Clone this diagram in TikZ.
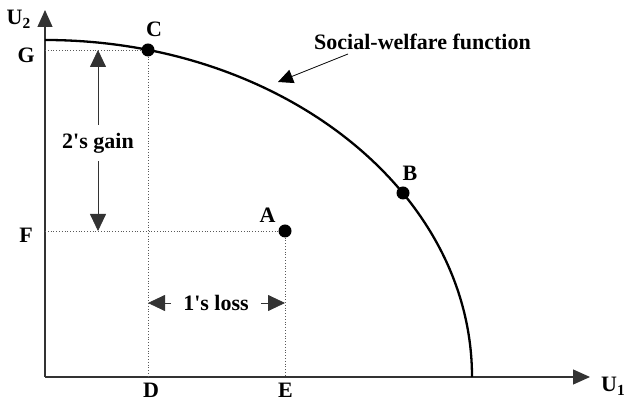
\documentclass[tikz,border=0pt]{standalone}
\usepackage{fontspec}
\setmainfont{Liberation Serif}
\usetikzlibrary{positioning, arrows.meta}

\begin{document}
\begin{tikzpicture}[
        x=1pt, y=1pt,
        lbl/.style={font=\bfseries\fontsize{22}{24}\selectfont, inner sep=0pt},
        axis/.style={-{Triangle[length=17pt,width=15pt]}, line width=1.2pt, draw=black!80},
        guide/.style={dotted, line width=0.8pt, draw=black!65},
        swf/.style={line width=2.3pt},
        dot/.style={circle, fill=black, inner sep=0pt, minimum size=13pt},
        dimarrow/.style={-{Triangle[length=17pt,width=16pt]}, line width=0.8pt, draw=black!80},
        ptr/.style={-{Triangle[length=15pt,width=14pt]}, line width=0.8pt}
      ]
        \useasboundingbox (-45,-26) rectangle (581,377);

        % axes
        \coordinate (O) at (0,0);
        \coordinate (ytip) at (0,367);
        \coordinate (xtip) at (545,0);
        \draw[axis] (O) -- (ytip);
        \draw[axis] (O) -- (xtip);
        \node[lbl, anchor=base east] (U2) at (-14,352) {U\textsubscript{2}};
        \node[lbl, anchor=base west] (U1) at (556,-15) {U\textsubscript{1}};

        % reference levels
        \coordinate (G) at (0,327);
        \coordinate (F) at (0,146);
        \coordinate (D) at (103,0);
        \coordinate (E) at (240,0);
        \node[lbl, anchor=base east] (Glbl) at (-10,314) {G};
        \node[lbl, anchor=base east] (Flbl) at (-12,134) {F};
        \node[lbl, anchor=base] (Dlbl) at (106,-21) {D};
        \node[lbl, anchor=base] (Elbl) at (240.5,-21) {E};

        % social-welfare curve
        \coordinate (swfstart) at (0,337);
        \draw[swf] (swfstart) arc[start angle=90, end angle=0, x radius=427, y radius=337];

        % points
        \node[dot] (C) at (103,327) {};
        \node[dot] (B) at (358,184) {};
        \node[dot] (A) at (240,146) {};
        \node[lbl, anchor=base] (Clbl) at (109,340) {C};
        \node[lbl, anchor=base] (Blbl) at (365,196) {B};
        \node[lbl, anchor=base] (Albl) at (222.5,154) {A};

        \draw[guide] (G) -- (C);
        \draw[guide] (C) -- (D);
        \draw[guide] (F) -- (A);
        \draw[guide] (A) -- (E);

        % gain and loss
        \node[lbl, inner ysep=8pt] (gain) at (53,234) {2\textquotesingle s gain};
        \draw[dimarrow] (gain.north) -- (gain.north |- G);
        \draw[dimarrow] (gain.south) -- (gain.south |- F);

        \node[lbl, inner xsep=12pt] (loss) at (171,74) {1\textquotesingle s loss};
        \draw[dimarrow] (loss.west) -- (loss.west -| D);
        \draw[dimarrow] (loss.east) -- (loss.east -| E);

        % label of the curve
        \node[lbl, anchor=base] (swflbl) at (377.5,327) {Social-welfare function};
        \coordinate (swfptr) at (233,295);
        \draw[ptr] ([xshift=34pt,yshift=-4pt]swflbl.base west) -- (swfptr);
      \end{tikzpicture}
\end{document}
